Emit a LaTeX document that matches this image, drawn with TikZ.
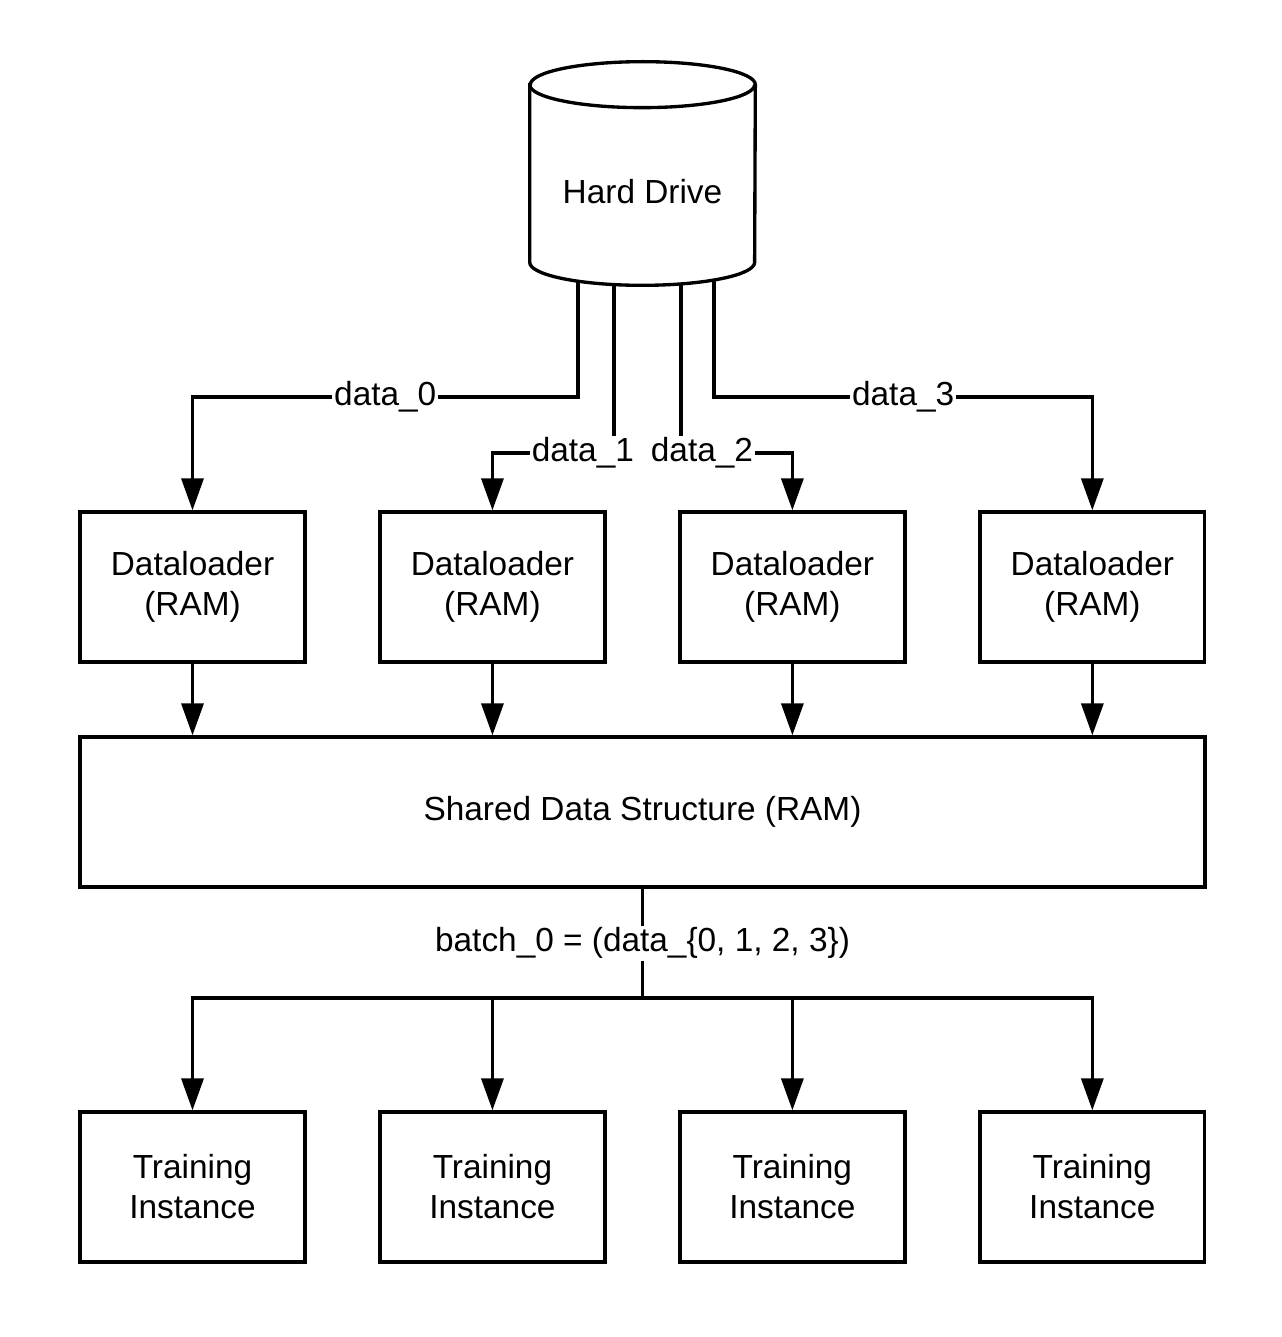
\documentclass[tikz,border=0pt]{standalone}
\usepackage{fontspec}
\setmainfont{Liberation Sans}
\usetikzlibrary{arrows.meta}
\usetikzlibrary{positioning}

\begin{document}
\begin{tikzpicture}[x=0.02cm,y=-0.02cm,
  node distance=6cm,on grid,
  box/.style={rectangle,draw,line width=1.9pt,minimum width=4.5cm,minimum height=3cm,align=center},
  wire/.style={line width=1.9pt},
  flow/.style={wire,-{Triangle[length=0.64cm,width=0.44cm]}},
  lbl/.style={fill=white,inner sep=1pt},
  font=\fontsize{19}{22.8}\selectfont]
  \useasboundingbox (0,0) rectangle (1281,1337);

  % hard drive
  \node (hd) [minimum width=4.5cm,minimum height=4.46cm,inner sep=0pt] at (642.5,173.5) {};
  \coordinate (t0) at (578,262);
  \coordinate (t1) at (614,262);
  \coordinate (t2) at (681,262);
  \coordinate (t3) at (714,262);

  % dataloaders
  \node[box] (dl0) at (192.5,587) {Dataloader\\(RAM)};
  \node[box,right=of dl0] (dl1) {Dataloader\\(RAM)};
  \node[box,right=of dl1] (dl2) {Dataloader\\(RAM)};
  \node[box,right=of dl2] (dl3) {Dataloader\\(RAM)};

  \node[box,minimum width=22.5cm] (sh) at (642.5,812) {Shared Data Structure (RAM)};

  % training instances
  \node[box] (ti0) at (192.5,1187) {Training\\Instance};
  \node[box,right=of ti0] (ti1) {Training\\Instance};
  \node[box,right=of ti1] (ti2) {Training\\Instance};
  \node[box,right=of ti2] (ti3) {Training\\Instance};

  % reads from disk
  \draw[flow] (t0) |- node[lbl,pos=0.75] {data\_0} (dl0.north |- 0,397) -- (dl0.north);
  \draw[flow] (t1) |- node[lbl,pos=0.628] {data\_1} (dl1.north |- 0,453) -- (dl1.north);
  \draw[flow] (t2) |- node[lbl,pos=0.594] {data\_2} (dl2.north |- 0,453) -- (dl2.north);
  \draw[flow] (t3) |- node[lbl,pos=0.75] {data\_3} (dl3.north |- 0,397) -- (dl3.north);

  \draw[wire,fill=white] ([yshift=-0.46cm]hd.north west) -- ([yshift=0.46cm]hd.south west)
    arc[start angle=180,end angle=360,x radius=2.25cm,y radius=0.46cm]
    -- ([yshift=-0.46cm]hd.north east)
    arc[start angle=0,end angle=180,x radius=2.25cm,y radius=0.46cm] -- cycle;
  \draw[wire] ([yshift=-0.46cm]hd.north west) arc[start angle=180,end angle=360,x radius=2.25cm,y radius=0.46cm];
  \node (hdtext) at (642.5,192) {Hard Drive};

  \foreach \i in {0,...,3}
    \draw[flow] (dl\i.south) -- (dl\i.south |- sh.north);

  % batch out to the instances
  \coordinate (split) at (642.5,998);
  \foreach \i in {0,...,3}
    \draw[flow] (split) -| (ti\i.north);
  \draw[wire] (sh.south) -- node[lbl] {batch\_0 = (data\_\{0, 1, 2, 3\})} (split);

\end{tikzpicture}
\end{document}
